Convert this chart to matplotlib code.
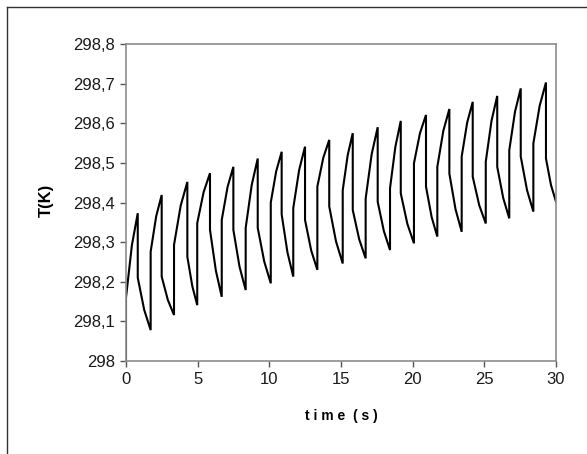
import matplotlib
matplotlib.use('Agg')
import matplotlib.pyplot as plt
from matplotlib.lines import Line2D
from matplotlib.ticker import FuncFormatter

# ── Values (one entry per heating cycle) ──
start_t, start_T0, start_T1 = 0.0, 298.0, 298.16

peak_t  = [0.82, 2.49, 4.28, 5.86, 7.49, 9.19, 10.86, 12.49, 14.18,
           15.82, 17.56, 19.17, 20.93, 22.56, 24.19, 25.90, 27.54, 29.30]
peak_T  = [298.373, 298.419, 298.452, 298.474, 298.490, 298.511, 298.528,
           298.541, 298.558, 298.575, 298.590, 298.606, 298.621, 298.636,
           298.654, 298.669, 298.688, 298.703]
drop_T  = [298.210, 298.213, 298.263, 298.331, 298.331, 298.336, 298.370,
           298.356, 298.390, 298.381, 298.402, 298.423, 298.440, 298.473,
           298.465, 298.490, 298.516, 298.511]
# trough times; the last one is the end of the record
trough_t = [1.72, 3.35, 4.97, 6.68, 8.35, 10.10, 11.67, 13.35, 15.12,
            16.72, 18.42, 20.09, 21.72, 23.42, 25.10, 26.74, 28.42, 30.0]
trough_T = [298.078, 298.116, 298.141, 298.162, 298.179, 298.196, 298.213,
            298.230, 298.246, 298.259, 298.280, 298.297, 298.314, 298.326,
            298.347, 298.360, 298.377, 298.402]
jump_T   = [298.276, 298.293, 298.348, 298.356, 298.336, 298.400, 298.386,
            298.440, 298.431, 298.410, 298.436, 298.499, 298.490, 298.516,
            298.503, 298.532, 298.549]
rise_mid_T  = [298.292, 298.365, 298.392, 298.426, 298.439, 298.444, 298.479,
               298.482, 298.513, 298.520, 298.522, 298.541, 298.575, 298.581,
               298.602, 298.606, 298.629, 298.644]
decay_mid_T = [298.129, 298.154, 298.189, 298.228, 298.238, 298.251, 298.274,
               298.279, 298.302, 298.307, 298.328, 298.346, 298.363, 298.383,
               298.393, 298.411, 298.431, 298.444]

x_ticks = [0, 5, 10, 15, 20, 25, 30]
y_ticks = [298.0, 298.1, 298.2, 298.3, 298.4, 298.5, 298.6, 298.7, 298.8]

# ── Build the polyline ─────────────────────────────────────
t = [start_t, start_t]
T = [start_T0, start_T1]
prev_t, prev_T = start_t, start_T1
for i in range(len(peak_t)):
    # rise to peak
    t += [(prev_t + peak_t[i]) / 2, peak_t[i]]
    T += [rise_mid_T[i], peak_T[i]]
    # heater off: sharp drop, then decay
    t += [peak_t[i], (peak_t[i] + trough_t[i]) / 2, trough_t[i]]
    T += [drop_T[i], decay_mid_T[i], trough_T[i]]
    if i < len(jump_T):
        t.append(trough_t[i])
        T.append(jump_T[i])
        prev_t, prev_T = trough_t[i], jump_T[i]

# ── Plot ───────────────────────────────────────────────────
fig = plt.figure(figsize=(5.87, 4.54), dpi=100)
fig.patch.set_facecolor("white")
ax = fig.add_axes([126/587, 1 - 361/454, 430/587, 317/454])

ax.plot(t, T, color="black", linewidth=1.5, solid_joinstyle="miter")
ax.set_xlim(0, 30)
ax.set_ylim(298.0, 298.8)
ax.set_xticks(x_ticks)
ax.set_yticks(y_ticks)
ax.yaxis.set_major_formatter(FuncFormatter(
    lambda v, p: f"{v:g}".replace(".", ",")))

for spine in ax.spines.values():
    spine.set_color("#8c8c8c")
    spine.set_linewidth(1.2)
ax.tick_params(direction="out", length=4, width=1, color="#555555",
               labelsize=12, labelcolor="#1a1a1a", pad=4,
               labelfontfamily="Liberation Sans")

fig.text(341/587, 1 - 416/454, "t i m e  ( s )", ha="center", va="center",
         fontsize=10, fontweight="bold", family="Liberation Sans")
fig.text(46/587, 1 - 200/454, "T(K)", ha="center", va="center",
         rotation=90, fontsize=12, fontweight="bold", family="Liberation Sans")

# outer frame (only top and left edges are inside the picture)
fig.add_artist(Line2D([7/587, 1.0], [1 - 7/454, 1 - 7/454],
                      transform=fig.transFigure, color="#333333", lw=1))
fig.add_artist(Line2D([7/587, 7/587], [0.0, 1 - 7/454],
                      transform=fig.transFigure, color="#333333", lw=1))

fig.savefig("out.png", dpi=100, facecolor="white")
